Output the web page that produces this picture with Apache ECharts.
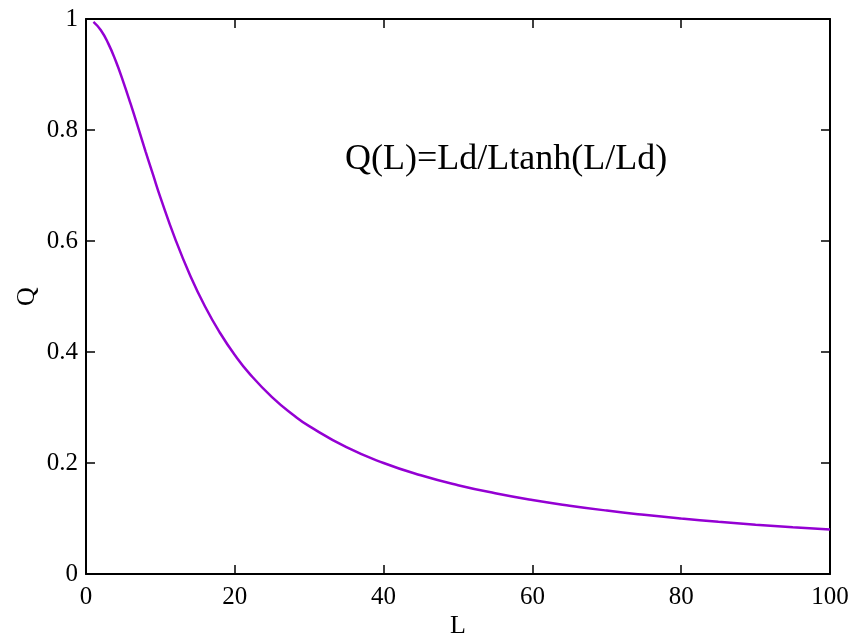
<!DOCTYPE html>
<html>
<head>
<meta charset="utf-8">
<script src="https://cdn.jsdelivr.net/npm/echarts@6/dist/echarts.min.js"></script>
<style>
html,body{margin:0;padding:0;background:#fff;}
#c{width:857px;height:637px;}
</style>
</head>
<body>
<div id="c"></div>
<script>
const L = [1,2,3,4,5,6,7,8,9,10,12,14,16,18,20,22,25,28,30,35,40,45,50,55,60,65,70,75,80,85,90,95,100];
const Q = [0.9948,0.9797,0.9556,0.9242,0.8873,0.8469,0.8047,0.7616,0.7199,0.6786,0.6034,0.5379,0.4820,0.4347,0.3946,0.3607,0.3188,0.2852,0.2664,0.2285,0.2000,0.1778,0.1600,0.1455,0.1333,0.1231,0.1143,0.1067,0.1000,0.0941,0.0889,0.0842,0.0800];
const xTicks = [0,20,40,60,80,100];
const yTicks = [0,0.2,0.4,0.6,0.8,1];
const annotation = 'Q(L)=Ld/Ltanh(L/Ld)';

const font = '"Liberation Serif", "DejaVu Serif", serif';
const chart = echarts.init(document.getElementById('c'), null, {renderer:'canvas'});
const axisCommon = {
  axisLine:{show:true, onZero:false, lineStyle:{color:'#000', width:2}},
  axisTick:{show:true, inside:true, length:9, lineStyle:{color:'#000', width:1.5}},
  splitLine:{show:false},
  axisLabel:{color:'#000', fontFamily:font, fontSize:25},
  nameTextStyle:{color:'#000', fontFamily:font, fontSize:26},
  nameMoveOverlap:false
};
chart.setOption({
  animation:false,
  backgroundColor:'#fff',
  grid:{left:86, right:27, top:19, bottom:63, containLabel:false, outerBoundsMode:'none'},
  xAxis:[
    Object.assign({}, axisCommon, {type:'value', min:0, max:100, interval:20, name:'L', nameLocation:'middle', nameGap:39,
      axisLabel:Object.assign({}, axisCommon.axisLabel, {margin:11})}),
    Object.assign({}, axisCommon, {type:'value', position:'top', min:0, max:100, interval:20, axisLabel:{show:false}})
  ],
  yAxis:[
    Object.assign({}, axisCommon, {type:'value', min:0, max:1, interval:0.2, name:'Q', nameLocation:'middle', nameGap:46,
      axisLabel:Object.assign({}, axisCommon.axisLabel, {margin:8, formatter:v=>String(+v.toFixed(1))})}),
    Object.assign({}, axisCommon, {type:'value', position:'right', min:0, max:1, interval:0.2, axisLabel:{show:false}})
  ],
  series:[{
    type:'line', xAxisIndex:0, yAxisIndex:0, showSymbol:false, smooth:true,
    data:L.map((v,i)=>[v,Q[i]]),
    lineStyle:{color:'#9400d3', width:2.5}
  }],
  graphic:[{
    type:'text', left:345, top:142,
    style:{text:annotation, font:'36px "Liberation Serif", serif', fill:'#000'}
  }]
});
</script>
</body>
</html>
